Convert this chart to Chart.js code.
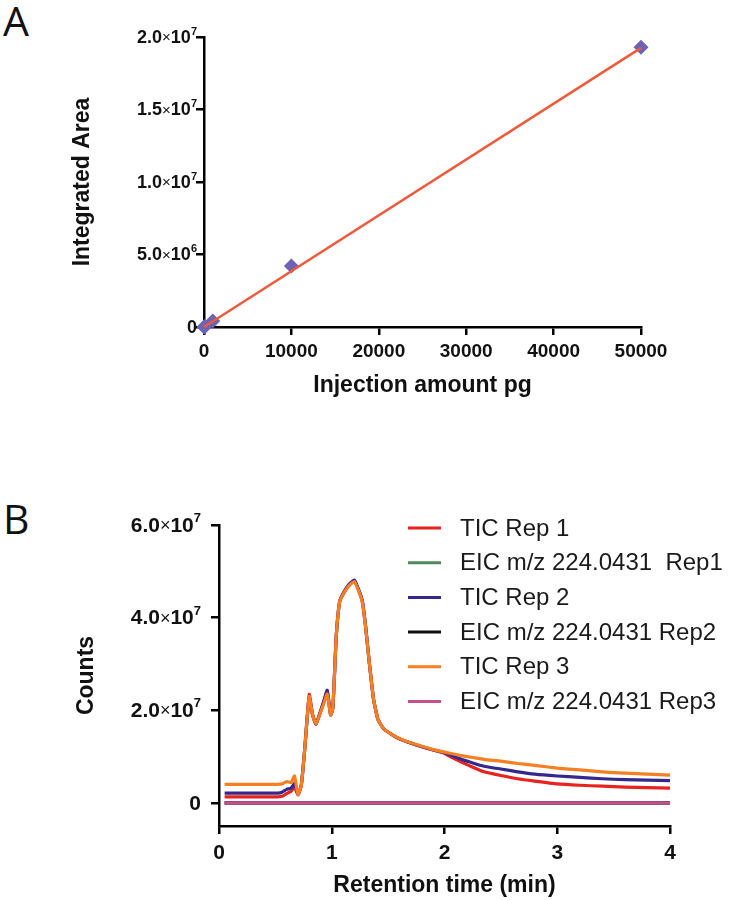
<!DOCTYPE html>
<html>
<head>
<meta charset="utf-8">
<script src="https://cdn.jsdelivr.net/npm/chart.js@4/dist/chart.umd.min.js"></script>
<style>
  html, body { margin: 0; padding: 0; background: #ffffff; width: 729px; height: 900px; overflow: hidden; }
  .panel { position: absolute; left: 0; width: 729px; }
  .plabel { position: absolute; font-family: 'Open Sans', 'DejaVu Sans', sans-serif; font-weight: 400; font-size: 41px; color: #111; line-height: 1; }
</style>
</head>
<body>
<div class="plabel" style="left:3px; top:0px;">A</div>
<div class="plabel" style="left:3px; top:498px;">B</div>
<div class="panel" style="top:0; height:450px;"><canvas id="chartA" width="729" height="450"></canvas></div>
<div class="panel" style="top:450px; height:450px;"><canvas id="chartB" width="729" height="450"></canvas></div>
<script>
// ---------- Panel A data ----------
const aAmount = [10, 100, 1000, 10000, 50000];            // injection amount, pg
const aArea = [4.0e3, 4.0e4, 4.1e5, 4.2e6, 1.93e7];       // integrated area
const fitAmount = [0, 50000];                              // fit line ends
const fitArea = [0, 1.925e7];
const aXTicks = [0, 10000, 20000, 30000, 40000, 50000];
const aXLabels = ['0', '10000', '20000', '30000', '40000', '50000'];
const aYTicks = [0, 5e6, 1e7, 1.5e7, 2e7];
const aYMant = ['0', '5.0', '1.0', '1.5', '2.0'];          // tick label mantissa
const aYExp = ['', '6', '7', '7', '7'];                    // tick label power of ten

// ---------- Panel B data (counts in units of 10^6) ----------
const bTime = [0.05, 0.20, 0.40, 0.52, 0.56, 0.60, 0.64, 0.67, 0.70, 0.73, 0.76, 0.80, 0.83, 0.86, 0.90, 0.93, 0.96, 0.99, 1.01, 1.04, 1.07, 1.10, 1.14, 1.17, 1.20, 1.23, 1.27, 1.30, 1.33, 1.37, 1.41, 1.46, 1.53, 1.61, 1.70, 1.80, 1.90, 1.99, 2.05, 2.15, 2.25, 2.35, 2.50, 2.65, 2.80, 3.00, 3.20, 3.40, 3.60, 3.80, 4.00];
const ticRep1 = [1.3, 1.3, 1.3, 1.3, 1.4, 2.0, 2.5, 3.5, 1.7, 3.8, 11.5, 23.4, 19.0, 17.0, 19.6, 21.8, 24.0, 19.0, 20.5, 36.0, 43.5, 45.0, 46.6, 47.4, 47.9, 46.4, 43.6, 38.1, 31.0, 22.5, 18.0, 16.0, 14.8, 13.7, 12.9, 12.1, 11.4, 10.8, 10.0, 8.8, 7.7, 6.7, 5.9, 5.2, 4.7, 4.1, 3.8, 3.6, 3.4, 3.3, 3.2];
const ticRep2 = [2.1, 2.1, 2.1, 2.1, 2.3, 2.9, 3.2, 4.2, 1.8, 3.8, 11.5, 22.8, 19.0, 17.0, 19.8, 22.0, 24.3, 19.0, 20.5, 36.0, 43.5, 45.2, 46.8, 47.6, 48.1, 46.6, 43.8, 38.2, 31.0, 22.5, 18.0, 16.0, 14.8, 13.7, 12.9, 12.1, 11.4, 10.9, 10.4, 9.4, 8.6, 7.9, 7.3, 6.7, 6.2, 5.8, 5.5, 5.2, 5.0, 4.9, 4.8];
const ticRep3 = [4.0, 4.0, 4.0, 4.0, 4.1, 4.6, 4.4, 5.8, 1.8, 3.8, 11.5, 23.0, 19.0, 17.0, 19.5, 21.5, 23.5, 19.0, 20.5, 36.0, 43.5, 45.0, 46.5, 47.3, 47.8, 46.3, 43.5, 38.0, 31.0, 22.5, 18.0, 16.0, 14.8, 13.8, 13.0, 12.2, 11.5, 11.0, 10.7, 10.2, 9.8, 9.4, 9.0, 8.5, 8.1, 7.5, 7.1, 6.7, 6.4, 6.2, 6.0];
const eicTime = [0.05, 4.00];
const eicRep1 = [0, 0];
const eicRep2 = [0, 0];
const eicRep3 = [0, 0];
const bLabels = ['TIC Rep 1', 'EIC m/z 224.0431  Rep1', 'TIC Rep 2', 'EIC m/z 224.0431 Rep2', 'TIC Rep 3', 'EIC m/z 224.0431 Rep3'];
const bXTicks = [0, 1, 2, 3, 4];
const bXLabels = ['0', '1', '2', '3', '4'];
const bYTicks = [0, 20, 40, 60];
const bYMant = ['0', '2.0', '4.0', '6.0'];
const bYExp = ['', '7', '7', '7'];

const FONT = "'Liberation Sans', Arial, Helvetica, sans-serif";
const pts = (xs, ys) => xs.map((x, i) => ({ x: x, y: ys[i] }));
const fixedTicks = (vals) => (scale) => { scale.ticks = vals.map(v => ({ value: v })); };
const labelOf = (vals, labels) => (v) => { const i = vals.indexOf(v); return i >= 0 ? labels[i] : ''; };

function axis(opts) {
  return {
    type: 'linear',
    min: opts.min, max: opts.max,
    afterBuildTicks: fixedTicks(opts.ticks),
    afterFit: opts.fit,
    grid: { drawOnChartArea: false, drawTicks: true, tickLength: 8, color: '#000', lineWidth: 2.5 },
    border: { display: true, color: '#000', width: 2.5 },
    ticks: {
      display: opts.labels !== null, autoSkip: false, maxRotation: 0, minRotation: 0, padding: opts.tickPad || 0,
      color: '#111', font: { family: FONT, size: opts.tickSize, weight: 'bold' },
      callback: opts.labels ? labelOf(opts.ticks, opts.labels) : () => ''
    },
    title: {
      display: true, text: opts.title, color: '#111',
      font: { family: FONT, size: 23, weight: 'bold' },
      padding: opts.titlePad
    }
  };
}

// y tick labels in "m.m×10^e" form, placed at the y scale's own tick positions
const expLabels = {
  id: 'expLabels',
  afterDraw(chart, args, o) {
    const s = chart.scales.y;
    const ctx = chart.ctx;
    const size = o.size;
    const fBold = 'bold ' + size + 'px ' + FONT;
    const fTimes = Math.round(size * 0.85) + 'px ' + FONT;
    const fExp = 'bold ' + Math.round(size * 0.62) + 'px ' + FONT;
    ctx.save();
    ctx.fillStyle = '#111';
    ctx.textBaseline = 'middle';
    ctx.textAlign = 'left';
    o.values.forEach((v, i) => {
      const y = s.getPixelForValue(v) + 1;
      const right = chart.chartArea.left - 8 - o.gap;
      const parts = o.exps[i]
        ? [[o.mants[i], fBold, 0], ['×', fTimes, 0], ['10', fBold, 0], [o.exps[i], fExp, -size * 0.36]]
        : [[o.mants[i], fBold, 0]];
      let w = 0;
      parts.forEach(p => { ctx.font = p[1]; p.push(ctx.measureText(p[0]).width); w += p[3]; });
      let x = right - w;
      parts.forEach(p => { ctx.font = p[1]; ctx.fillText(p[0], x, y + p[2]); x += p[3]; });
    });
    ctx.restore();
  }
};

// ---------- Chart A ----------
new Chart(document.getElementById('chartA'), {
  type: 'scatter',
  data: {
    datasets: [
      {
        label: 'Data', data: pts(aAmount, aArea), showLine: false,
        pointStyle: 'rectRot', pointRadius: 7.5, pointHoverRadius: 7.5,
        backgroundColor: '#6d63b4', borderColor: '#6d63b4', borderWidth: 0, clip: false, order: 1
      },
      {
        label: 'Fit', data: pts(fitAmount, fitArea), showLine: true, pointRadius: 0,
        borderColor: '#ef5a3a', borderWidth: 2.5, tension: 0, clip: false, order: 0
      }
    ]
  },
  options: {
    responsive: false, animation: false, devicePixelRatio: 1,
    layout: { padding: { left: 54, right: 88, top: 37, bottom: 43 } },
    plugins: {
      legend: { display: false }, tooltip: { enabled: false },
      expLabels: { values: aYTicks, mants: aYMant, exps: aYExp, size: 18, gap: -1 }
    },
    scales: {
      x: axis({ min: 0, max: 50000, ticks: aXTicks, labels: aXLabels, tickSize: 19, tickPad: 5,
                title: 'Injection amount pg', titlePad: { top: 0, bottom: 8 },
                fit: (s) => { s.height = 80; } }),
      y: axis({ min: 0, max: 2e7, ticks: aYTicks, labels: null, tickSize: 18,
                title: 'Integrated Area', titlePad: { top: 15, bottom: 0 },
                fit: (s) => { s.width = 150; } })
    }
  },
  plugins: [expLabels]
});

// ---------- Chart B ----------
const sideLegend = {
  id: 'sideLegend',
  afterDraw(chart, args, o) {
    const ctx = chart.ctx;
    ctx.save();
    chart.data.datasets.forEach((ds, i) => {
      const y = o.top + i * o.gap;
      ctx.strokeStyle = ds.borderColor;
      ctx.lineWidth = 3;
      ctx.beginPath(); ctx.moveTo(o.lineX0, y); ctx.lineTo(o.lineX1, y); ctx.stroke();
      ctx.fillStyle = '#1a1a1a';
      ctx.font = o.font;
      ctx.textBaseline = 'middle';
      ctx.textAlign = 'left';
      ctx.fillText(ds.label, o.textX, y + 1);
    });
    ctx.restore();
  }
};

const bColors = ['#e8231f', '#4f8a5e', '#35288c', '#111111', '#f57f22', '#c2508c'];
const bSeries = [pts(bTime, ticRep1), pts(eicTime, eicRep1), pts(bTime, ticRep2), pts(eicTime, eicRep2), pts(bTime, ticRep3), pts(eicTime, eicRep3)];
const bOrder = [3, 5, 2, 4, 1, 0];

new Chart(document.getElementById('chartB'), {
  type: 'scatter',
  data: {
    datasets: bSeries.map((d, i) => ({
      label: bLabels[i], data: d, showLine: true, pointRadius: 0, pointHoverRadius: 0,
      borderColor: bColors[i], backgroundColor: bColors[i], borderWidth: 3.2, tension: 0.15,
      order: bOrder[i]
    }))
  },
  options: {
    responsive: false, animation: false, devicePixelRatio: 1,
    layout: { padding: { left: 69, right: 59, top: 75, bottom: 1 } },
    plugins: {
      legend: { display: false }, tooltip: { enabled: false },
      sideLegend: { top: 78, gap: 34.7, lineX0: 408, lineX1: 441, textX: 460, font: "24px " + FONT },
      expLabels: { values: bYTicks, mants: bYMant, exps: bYExp, size: 21, gap: 10 }
    },
    scales: {
      x: axis({ min: 0, max: 4, ticks: bXTicks, labels: bXLabels, tickSize: 21, tickPad: 7,
                title: 'Retention time (min)', titlePad: { top: 0, bottom: 0 },
                fit: (s) => { s.height = 73; } }),
      y: axis({ min: -5, max: 60, ticks: bYTicks, labels: null, tickSize: 21,
                title: 'Counts', titlePad: { top: 4, bottom: 0 },
                fit: (s) => { s.width = 150; } })
    }
  },
  plugins: [sideLegend, expLabels]
});
</script>
</body>
</html>
